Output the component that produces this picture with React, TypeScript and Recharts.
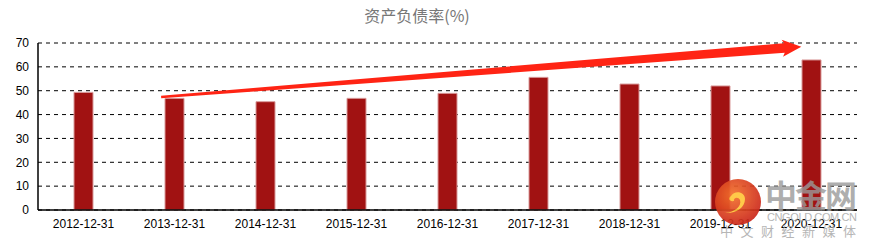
import { Bar, BarChart, CartesianGrid, ReferenceLine, XAxis, YAxis } from "recharts";

const years = [
  "2012-12-31",
  "2013-12-31",
  "2014-12-31",
  "2015-12-31",
  "2016-12-31",
  "2017-12-31",
  "2018-12-31",
  "2019-12-31",
  "2020-12-31",
];
const debtRatio = [49.3, 46.8, 45.4, 46.8, 48.9, 55.6, 52.8, 52.0, 62.9];
const yTicks = [0, 10, 20, 30, 40, 50, 60, 70];

// trend arrow, in data space (category, value)
const arrowFrom = { x: "2013-12-31", y: 47.8 };
const arrowTo = { x: "2020-12-31", y: 68.8 };

const data = years.map((year, i) => ({ year, ratio: debtRatio[i] }));

// tapered arrow drawn along the reference segment
function TrendArrow(props: any) {
  const { x1, y1, x2, y2 } = props;
  if ([x1, y1, x2, y2].some((v) => typeof v !== "number")) return null;
  const dx = x2 - x1;
  const dy = y2 - y1;
  const len = Math.hypot(dx, dy);
  const ux = dx / len;
  const uy = dy / len;
  const nx = -uy;
  const ny = ux;
  const sx = x1 - 0.021 * dx;
  const sy = y1 - 0.021 * dy;
  const tx = x1 + 0.984 * dx;
  const ty = y1 + 0.984 * dy;
  const bx = tx - 17 * ux;
  const by = ty - 17 * uy;
  const pts = [
    [sx + nx * 1.2, sy + ny * 1.2],
    [bx + nx * 4.8, by + ny * 4.8],
    [bx - ux * 2 + nx * 8.5, by - uy * 2 + ny * 8.5],
    [tx, ty],
    [bx - ux * 2 - nx * 8.5, by - uy * 2 - ny * 8.5],
    [bx - nx * 4.8, by - ny * 4.8],
    [sx - nx * 1.2, sy - ny * 1.2],
  ];
  return (
    <polygon
      points={pts.map((p) => p.join(",")).join(" ")}
      fill="#ff2414"
      stroke="none"
    />
  );
}

export default function App() {
  return (
    <div
      style={{
        position: "absolute",
        left: 0,
        top: 0,
        width: 872,
        height: 251,
        background: "#fff",
      }}
    >
      <div
        style={{
          position: "absolute",
          left: 0,
          top: 5,
          width: 834,
          textAlign: "center",
          fontFamily: "'Noto Sans CJK SC', sans-serif",
          fontSize: 16,
          color: "#777",
          lineHeight: "20px",
        }}
      >
        资产负债率(%)
      </div>
      <BarChart
        width={872}
        height={251}
        data={data}
        margin={{ top: 43, right: 15, bottom: 0, left: 8 }}
        barCategoryGap="0%"
      >
        <CartesianGrid
          vertical={false}
          stroke="#000"
          strokeDasharray="4 4"
        />
        <XAxis
          dataKey="year"
          height={41}
          tickLine={false}
          axisLine={{ stroke: "#000", strokeWidth: 1.5 }}
          tick={{ fill: "#000", fontSize: 12, fontFamily: "Liberation Sans" }}
          tickMargin={3}
          interval={0}
        />
        <YAxis
          width={30}
          domain={[0, 70]}
          ticks={yTicks}
          tickLine={false}
          axisLine={{ stroke: "#000", strokeWidth: 1.5 }}
          tick={{ fill: "#000", fontSize: 12, fontFamily: "Liberation Sans" }}
          tickMargin={3}
        />
        <Bar
          dataKey="ratio"
          barSize={19}
          fill="#a11212"
          stroke="#d99a9a"
          strokeWidth={1}
          isAnimationActive={false}
        />
        <ReferenceLine
          segment={[arrowFrom, arrowTo]}
          ifOverflow="visible"
          shape={TrendArrow}
        />
      </BarChart>
      <svg
        width={872}
        height={251}
        style={{ position: "absolute", left: 0, top: 0, pointerEvents: "none" }}
      >
        <defs>
          <radialGradient id="logoGrad" cx="40%" cy="35%" r="70%">
            <stop offset="0%" stopColor="#f4722c" />
            <stop offset="100%" stopColor="#c9231a" />
          </radialGradient>
        </defs>
        <g opacity={0.92}>
          <circle cx={738} cy={202} r={23} fill="url(#logoGrad)" />
          <path
            d="M731 196 C 734 190, 745 191, 745 199 C 745 208, 735 214, 725 213 C 735 212, 742 206, 740 200 C 738 196, 733 198, 734 201 C 729 202, 728 198, 731 196 Z"
            fill="#ffc53a"
          />
        </g>
        <text
          x={765}
          y={208}
          fontSize={32}
          fontWeight="bold"
          fill="#9a9a9a"
          opacity={0.8}
          fontFamily="'Noto Sans CJK SC', sans-serif"
          textLength={92}
        >
          中金网
        </text>
        <text
          x={767}
          y={221}
          fontSize={11}
          fill="#aaa"
          opacity={0.85}
          fontFamily="Liberation Sans"
          textLength={90}
        >
          CNGOLD.COM.CN
        </text>
        <text
          x={720}
          y={236}
          fontSize={13}
          fill="#aaa"
          opacity={0.85}
          fontFamily="'Noto Sans CJK SC', sans-serif"
          textLength={136}
        >
          中文财经新媒体
        </text>
      </svg>
    </div>
  );
}
